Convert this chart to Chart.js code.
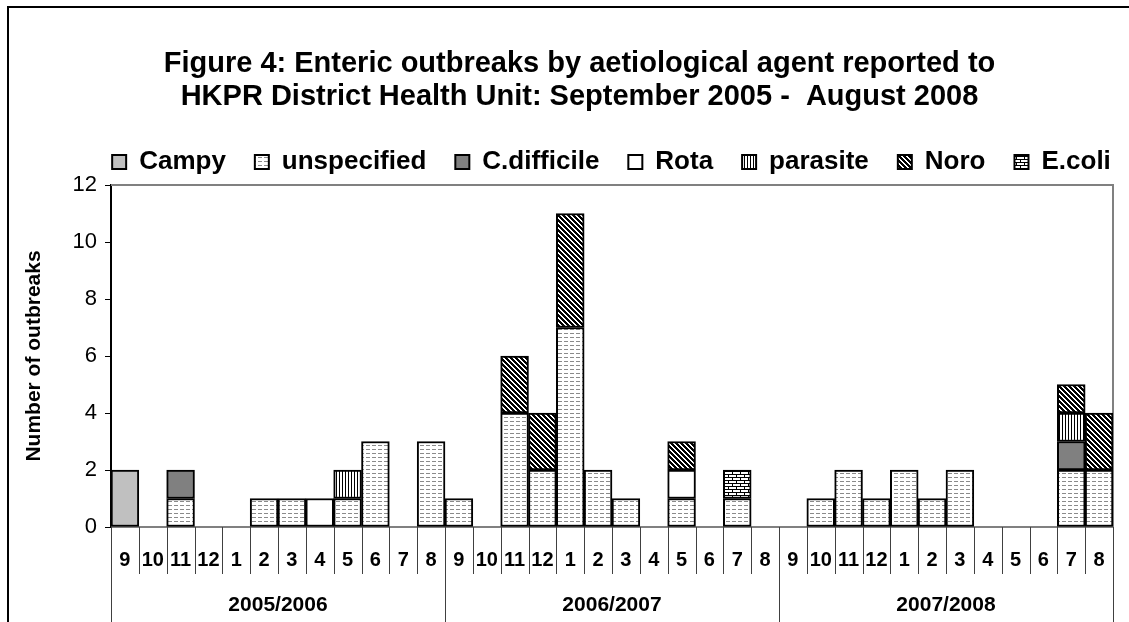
<!DOCTYPE html>
<html>
<head>
<meta charset="utf-8">
<title>Enteric outbreaks by aetiological agent</title>
<script src="https://cdn.jsdelivr.net/npm/chart.js@4.4.1/dist/chart.umd.min.js"></script>
<style>
    html, body { margin: 0; padding: 0; background: #ffffff; }
    #outbreakChart { display: block; }
</style>
</head>
<body>
<canvas id="outbreakChart" width="1129" height="622"></canvas>
<script>
const monthLabels = [
    "9", "10", "11", "12", "1", "2", "3", "4", "5", "6", "7", "8",
    "9", "10", "11", "12", "1", "2", "3", "4", "5", "6", "7", "8",
    "9", "10", "11", "12", "1", "2", "3", "4", "5", "6", "7", "8"
];
const yearLabels = ["2005/2006", "2006/2007", "2007/2008"];

const campy       = [2,0,0,0,0,0,0,0,0,0,0,0, 0,0,0,0,0,0,0,0,0,0,0,0, 0,0,0,0,0,0,0,0,0,0,0,0];
const unspecified = [0,0,1,0,0,1,1,0,1,3,0,3, 1,0,4,2,7,2,1,0,1,0,1,0, 0,1,2,1,2,1,2,0,0,0,2,2];
const cDifficile  = [0,0,1,0,0,0,0,0,0,0,0,0, 0,0,0,0,0,0,0,0,0,0,0,0, 0,0,0,0,0,0,0,0,0,0,1,0];
const rota        = [0,0,0,0,0,0,0,1,0,0,0,0, 0,0,0,0,0,0,0,0,1,0,0,0, 0,0,0,0,0,0,0,0,0,0,0,0];
const parasite    = [0,0,0,0,0,0,0,0,1,0,0,0, 0,0,0,0,0,0,0,0,0,0,0,0, 0,0,0,0,0,0,0,0,0,0,1,0];
const noro        = [0,0,0,0,0,0,0,0,0,0,0,0, 0,0,2,2,4,0,0,0,1,0,0,0, 0,0,0,0,0,0,0,0,0,0,1,2];
const eColi       = [0,0,0,0,0,0,0,0,0,0,0,0, 0,0,0,0,0,0,0,0,0,0,1,0, 0,0,0,0,0,0,0,0,0,0,0,0];

const yTicks = [0, 2, 4, 6, 8, 10, 12];

const FONT = '"Liberation Sans", Arial, Helvetica, sans-serif';

function makePattern(w, h, draw) {
    const c = document.createElement("canvas");
    c.width = w;
    c.height = h;
    const p = c.getContext("2d");
    p.fillStyle = "#ffffff";
    p.fillRect(0, 0, w, h);
    draw(p);
    return document.getElementById("outbreakChart").getContext("2d").createPattern(c, "repeat");
}

const dashPattern = makePattern(6, 4, (p) => {
    p.fillStyle = "#8a8a8a";
    p.fillRect(0, 1, 4, 1);
});

const diagPattern = makePattern(5, 5, (p) => {
    p.fillStyle = "#000000";
    p.fillRect(0, 0, 5, 5);
    p.fillStyle = "#ffffff";
    for (let i = 0; i < 5; i++) {
        p.fillRect(i, i, 1, 1);
        p.fillRect((i + 1) % 5, i, 1, 1);
    }
});

const vertPattern = makePattern(3, 1, (p) => {
    p.fillStyle = "#000000";
    p.fillRect(0, 0, 1, 1);
});

const brickPattern = makePattern(8, 6, (p) => {
    p.fillStyle = "#000000";
    p.fillRect(0, 0, 8, 1);
    p.fillRect(0, 3, 8, 1);
    p.fillRect(0, 0, 1, 3);
    p.fillRect(4, 3, 1, 3);
});

function toBars(values) {
    return values.map(v => v === 0 ? null : v);
}

function seriesStyle(fill) {
    return {
        backgroundColor: fill,
        borderColor: "#000000",
        borderWidth: 2,
        borderSkipped: false,
        barPercentage: 1.0,
        categoryPercentage: 1.0
    };
}

const groupedAxisPlugin = {
    id: "groupedAxis",
    afterLayout(chart) {
        // legend sits over the plot area, the title over the whole figure
        chart.legend.left += 32;
        chart.legend.right += 32;
    },
    beforeDraw(chart) {
        const ctx = chart.ctx;
        ctx.save();
        ctx.fillStyle = "#ffffff";
        ctx.fillRect(0, 0, chart.width, chart.height);
        ctx.strokeStyle = "#000000";
        ctx.lineWidth = 2;
        ctx.strokeRect(8, 7, chart.width + 50, chart.height + 50);
        ctx.restore();
    },
    beforeDatasetsDraw(chart) {
        const ctx = chart.ctx;
        const area = chart.chartArea;
        ctx.save();
        ctx.strokeStyle = "#808080";
        ctx.lineWidth = 2;
        ctx.beginPath();
        ctx.moveTo(area.left, area.top);
        ctx.lineTo(area.right, area.top);
        ctx.lineTo(area.right, area.bottom);
        ctx.lineTo(area.left, area.bottom);
        ctx.stroke();
        ctx.restore();
    },
    afterDraw(chart) {
        const ctx = chart.ctx;
        const x = chart.scales.x;
        const area = chart.chartArea;
        const half = (x.getPixelForValue(1) - x.getPixelForValue(0)) / 2;

        ctx.save();
        ctx.strokeStyle = "#404040";
        ctx.lineWidth = 1;
        for (let i = 0; i <= monthLabels.length; i++) {
            const edge = i < monthLabels.length ? x.getPixelForValue(i) - half : x.getPixelForValue(i - 1) + half;
            const px = Math.round(edge) + 0.5;
            const bottom = i % 12 === 0 ? chart.height : area.bottom + 47;
            ctx.beginPath();
            ctx.moveTo(px, area.bottom);
            ctx.lineTo(px, bottom);
            ctx.stroke();
        }

        ctx.fillStyle = "#000000";
        ctx.textAlign = "center";
        ctx.textBaseline = "middle";
        ctx.font = "bold 20px " + FONT;
        monthLabels.forEach((label, i) => {
            ctx.fillText(label, x.getPixelForValue(i), area.bottom + 33);
        });

        ctx.font = "bold 21px " + FONT;
        yearLabels.forEach((label, g) => {
            const start = x.getPixelForValue(g * 12) - half;
            const end = x.getPixelForValue(g * 12 + 11) + half;
            ctx.fillText(label, (start + end) / 2, area.bottom + 78);
        });
        ctx.restore();
    }
};

const outbreakChart = new Chart(document.getElementById("outbreakChart"), {
    type: "bar",
    data: {
        labels: monthLabels,
        datasets: [
            { label: "Campy", data: toBars(campy), ...seriesStyle("#c0c0c0") },
            { label: "unspecified", data: toBars(unspecified), ...seriesStyle(dashPattern) },
            { label: "C.difficile", data: toBars(cDifficile), ...seriesStyle("#808080") },
            { label: "Rota", data: toBars(rota), ...seriesStyle("#ffffff") },
            { label: "parasite", data: toBars(parasite), ...seriesStyle(vertPattern) },
            { label: "Noro", data: toBars(noro), ...seriesStyle(diagPattern) },
            { label: "E.coli", data: toBars(eColi), ...seriesStyle(brickPattern) }
        ]
    },
    options: {
        responsive: false,
        animation: false,
        devicePixelRatio: 1,
        layout: {
            padding: { left: 46, right: 16, top: 0, bottom: 0 }
        },
        plugins: {
            title: {
                display: true,
                text: [
                    "Figure 4: Enteric outbreaks by aetiological agent reported to",
                    "HKPR District Health Unit: September 2005 -  August 2008"
                ],
                color: "#000000",
                font: { family: FONT, size: 29, weight: "bold", lineHeight: 1.138 },
                padding: { top: 47, bottom: 7 }
            },
            legend: {
                display: true,
                fullSize: true,
                position: "top",
                align: "center",
                labels: {
                    color: "#000000",
                    font: { family: FONT, size: 26, weight: "bold" },
                    boxWidth: 14,
                    boxHeight: 14,
                    padding: 29
                }
            },
            tooltip: { enabled: false }
        },
        scales: {
            x: {
                stacked: true,
                grid: { display: false },
                border: { display: false },
                ticks: { display: false },
                afterFit(scale) {
                    scale.height = 95;
                }
            },
            y: {
                stacked: true,
                min: 0,
                max: 12,
                afterBuildTicks(scale) {
                    scale.ticks = yTicks.map(v => ({ value: v }));
                },
                afterFit(scale) {
                    scale.width = 65;
                },
                grid: {
                    drawOnChartArea: false,
                    drawTicks: true,
                    tickLength: 6,
                    color: "#000000",
                    lineWidth: 1
                },
                border: { display: true, color: "#000000", width: 2 },
                ticks: {
                    color: "#000000",
                    font: { family: FONT, size: 22 },
                    padding: 8
                },
                title: {
                    display: true,
                    text: "Number of outbreaks",
                    color: "#000000",
                    font: { family: FONT, size: 21, weight: "bold" },
                    padding: { top: -24, bottom: 0 }
                }
            }
        }
    },
    plugins: [groupedAxisPlugin]
});
</script>
</body>
</html>
